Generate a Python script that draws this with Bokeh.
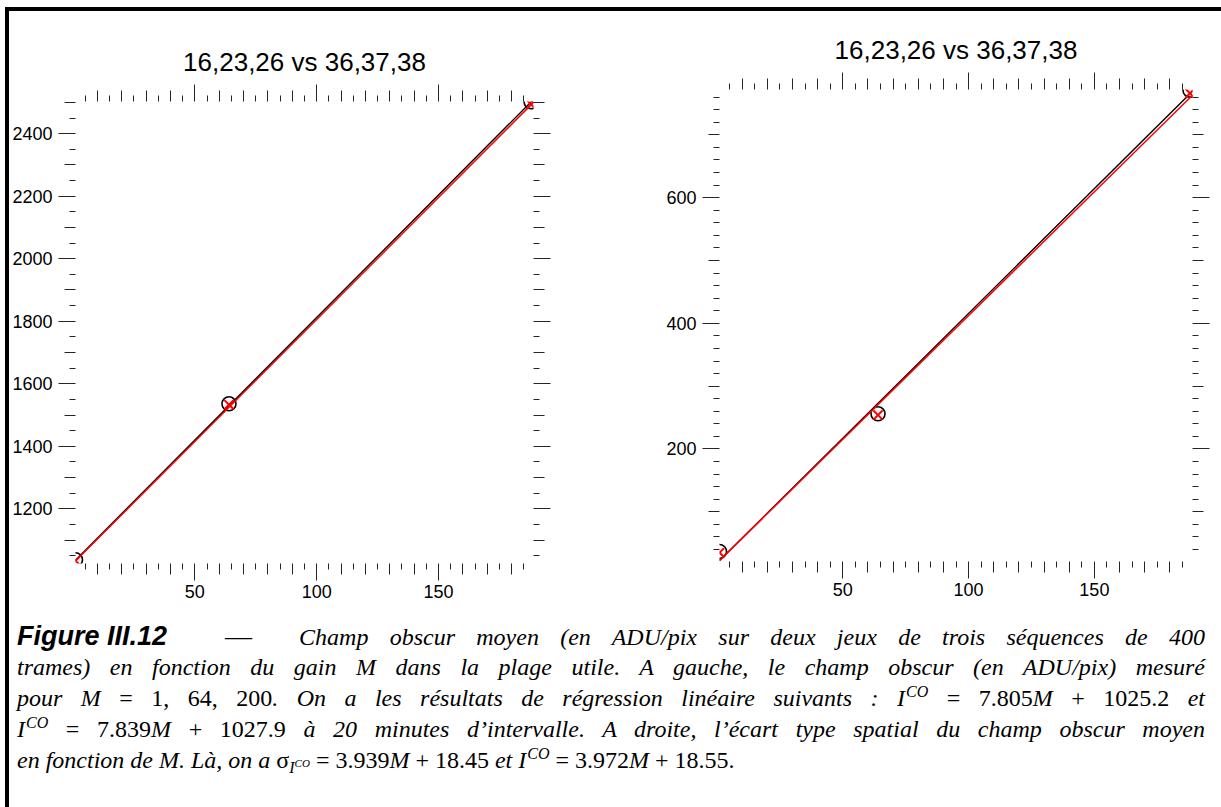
from bokeh.plotting import figure
from bokeh.models import Range1d, LinearAxis, FixedTicker, Div, Spacer
from bokeh.layouts import row, column
from bokeh.embed import file_html
from bokeh.resources import INLINE

# ---------------- data ----------------
title_text = "16,23,26 vs 36,37,38"

gain_m = [1, 64, 188]                      # gain M of the three measurements
m_range = (1, 189)

# left panel : mean dark field (ADU/pix)
left_circles = [1037, 1536, 2502]
left_crosses = [1034, 1533, 2494]
left_fit_circles = (7.839, 1027.9)         # slope, intercept (caption)
left_fit_crosses = (7.805, 1025.2)
left_y_range = (1025, 2503)

# right panel : spatial standard deviation of the dark field
right_circles = [37, 256, 771]
right_crosses = [35, 254, 766]
right_fit_circles = (3.972, 18.55)
right_fit_crosses = (3.939, 18.45)
right_y_range = (21, 772)

# tick positions
x_major = [50, 100, 150]
x_medium = [v for v in range(10, 190, 10) if v % 50]
x_minor = list(range(5, 190, 10))
left_y_major = [1200, 1400, 1600, 1800, 2000, 2200, 2400]
left_y_medium = [1100, 1300, 1500, 1700, 1900, 2100, 2300, 2500]
left_y_minor = list(range(1050, 2500, 100))
right_y_major = [200, 400, 600]
right_y_medium = [100, 300, 500, 700]
right_y_minor = [v for v in range(40, 780, 20) if v % 100]

TICK = "#262626"
SANS = "Liberation Sans"


def tick_family(p, side, ticks, length):
    """Unlabelled axis drawing one family of outward ticks; it takes no room
    in the layout (tick drawn through a negative 'in' length)."""
    ax = LinearAxis(
        ticker=FixedTicker(ticks=[], minor_ticks=ticks),
        axis_line_color=None,
        major_tick_in=0, major_tick_out=0,
        minor_tick_in=-length, minor_tick_out=0,
        minor_tick_line_color=TICK, minor_tick_line_width=1,
        major_label_standoff=0, axis_label_standoff=0,
    )
    p.add_layout(ax, side)


def labelled_axis(p, side, major, minor):
    ax = LinearAxis(
        ticker=FixedTicker(ticks=major, minor_ticks=minor),
        axis_line_color=None,
        major_tick_in=0, major_tick_out=17,
        minor_tick_in=0, minor_tick_out=6,
        major_tick_line_color=TICK, minor_tick_line_color=TICK,
        major_tick_line_width=1, minor_tick_line_width=1,
        major_label_text_font=SANS,
        major_label_text_font_size="18px",
        major_label_text_color="black",
        major_label_standoff=6 if side == "left" else 4,
        axis_label_standoff=0,
    )
    p.add_layout(ax, side)


def make_plot(width, height, borders, y_range, circles, crosses, fit_c, fit_x,
              y_major, y_medium, y_minor):
    bl, br, bt, bb = borders
    p = figure(width=width, height=height,
               x_range=Range1d(*m_range), y_range=Range1d(*y_range),
               output_backend="svg", toolbar_location=None,
               x_axis_location=None, y_axis_location=None,
               min_border_left=bl, min_border_right=br,
               min_border_top=bt, min_border_bottom=bb,
               background_fill_color="white", border_fill_color="white")
    p.outline_line_color = None
    for g in p.grid:
        g.visible = False
    p.title.text = title_text
    p.title.align = "center"
    p.title.vertical_align = "top"
    p.title.text_font = SANS
    p.title.text_font_size = "26px"
    p.title.text_font_style = "normal"
    p.title.text_color = "black"
    p.title.standoff = 46

    # zero-size tick families first (innermost), labelled axes last
    tick_family(p, "below", x_medium, 11)
    labelled_axis(p, "below", x_major, x_minor)
    tick_family(p, "above", x_minor, 6)
    tick_family(p, "above", x_medium, 11)
    tick_family(p, "above", x_major, 17)
    tick_family(p, "left", y_medium, 11)
    labelled_axis(p, "left", y_major, y_minor)
    tick_family(p, "right", y_minor, 6)
    tick_family(p, "right", y_medium, 11)
    tick_family(p, "right", y_major, 17)

    x0, x1 = m_range
    xs = [x0, x1]
    p.line(xs, [fit_c[0] * x + fit_c[1] for x in xs], line_color="black", line_width=1.4)
    p.scatter(gain_m, circles, marker="circle", size=14, fill_color=None,
              line_color="black", line_width=1.6)
    p.line(xs, [fit_x[0] * x + fit_x[1] for x in xs], line_color="red", line_width=1.5)
    p.scatter(gain_m, crosses, marker="x", size=13, line_color="red", line_width=2)
    return p


# the left panel sits 12 px lower than the right one
p1 = make_plot(611, 589, (63, 87, 77, 49), left_y_range, left_circles, left_crosses,
               left_fit_circles, left_fit_crosses, left_y_major, left_y_medium, left_y_minor)
p2 = make_plot(594, 601, (99, 22, 77, 51), right_y_range, right_circles, right_crosses,
               right_fit_circles, right_fit_crosses, right_y_major, right_y_medium, right_y_minor)
left_block = column(Spacer(width=611, height=12), p1)

# ---------------- caption ----------------
def up(s):
    return f'<span style="font-style:normal">{s}</span>'

ICO = ('<i>I</i><span style="position:relative;top:-0.55em;font-size:16px;line-height:0;'
       'margin-left:1px">CO</span>')
SIG = ('<span style="font-style:normal">σ</span><span style="position:relative;top:0.3em;'
       'font-size:16px;line-height:0"><i>I</i><span style="position:relative;top:-0.5em;'
       'font-size:11px;line-height:0">CO</span></span>')
J = "white-space:nowrap;text-align:justify;text-align-last:justify;height:31px;"

first_line_rest = "Champ obscur moyen (en ADU/pix sur deux jeux de trois séquences de 400"
caption_lines = [
    "trames) en fonction du gain <i>M</i> dans la plage utile. A gauche, le champ obscur (en ADU/pix) mesuré",
    f"pour <i>M</i> {up('= 1, 64, 200')}. On a les résultats de régression linéaire suivants : "
    f"{ICO} {up('= 7.805')}<i>M</i> {up('+ 1025.2')} et",
    f"{ICO} {up('= 7.839')}<i>M</i> {up('+ 1027.9')} à 20 minutes d’intervalle. "
    "A droite, l’écart type spatial du champ obscur moyen",
]
last_line = (f"en fonction de <i>M</i>. Là, on a {SIG} {up('= 3.939')}<i>M</i> {up('+ 18.45')} et "
             f"{ICO} {up('= 3.972')}<i>M</i> {up('+ 18.55.')}")

html = (
    '<div style="box-sizing:content-box;font-family:\'Liberation Serif\';font-style:italic;'
    'font-size:24px;line-height:31px;color:black;padding:4px 0 0 3px;width:1188px;">'
    '<div style="display:flex;white-space:nowrap;align-items:baseline;height:31px;">'
    '<span style="font-family:\'Liberation Sans\';font-weight:bold;font-style:italic;font-size:27px;">'
    'Figure III.12</span>'
    '<span style="margin-left:58px;font-style:normal;font-size:27px;">—</span>'
    f'<span style="flex:1;margin-left:47px;{J}">{first_line_rest}</span></div>'
    + "".join(f'<div style="{J}">{ln}</div>' for ln in caption_lines)
    + f'<div style="white-space:nowrap;height:31px;">{last_line}</div></div>'
)
cap = Div(text=html, width=1205, height=188)

framed = column(row(left_block, p2), cap,
                styles={"border-top": "4px solid black",
                        "border-left": "4px solid black",
                        "border-right": "4px solid black"})

layout = column(Spacer(width=1213, height=7), row(Spacer(width=5, height=793), framed))

open("out.html", "w").write(file_html(layout, INLINE))
